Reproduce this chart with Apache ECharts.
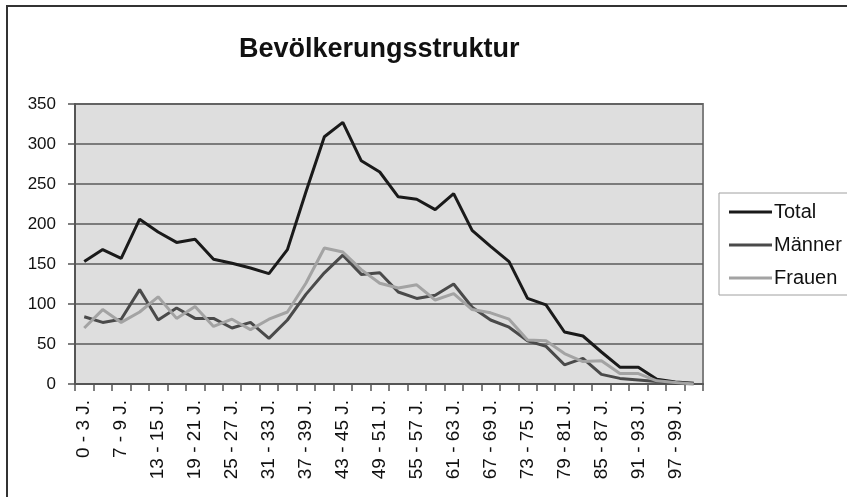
<!DOCTYPE html>
<html>
<head>
<meta charset="utf-8">
<script src="https://cdn.jsdelivr.net/npm/echarts@6/dist/echarts.min.js"></script>
<style>
html,body{margin:0;padding:0;background:#fff;}
#chart{width:847px;height:497px;}
</style>
</head>
<body>
<div id="chart"></div>
<script>
const categories = [
  "0 - 3 J.", "4 - 6 J.", "7 - 9 J.", "10 - 12 J.", "13 - 15 J.", "16 - 18 J.",
  "19 - 21 J.", "22 - 24 J.", "25 - 27 J.", "28 - 30 J.", "31 - 33 J.", "34 - 36 J.",
  "37 - 39 J.", "40 - 42 J.", "43 - 45 J.", "46 - 48 J.", "49 - 51 J.", "52 - 54 J.",
  "55 - 57 J.", "58 - 60 J.", "61 - 63 J.", "64 - 66 J.", "67 - 69 J.", "70 - 72 J.",
  "73 - 75 J.", "76 - 78 J.", "79 - 81 J.", "82 - 84 J.", "85 - 87 J.", "88 - 90 J.",
  "91 - 93 J.", "94 - 96 J.", "97 - 99 J.", "100 - 102 J."
];
const total = [153, 168, 157, 206, 190, 177, 181, 156, 151, 145, 138, 168,
  240, 309, 327, 279, 265, 234, 231, 218, 238, 192, 172, 153,
  107, 99, 65, 60, 40, 21, 21, 6, 2.5, 1];
const maenner = [84, 77, 81, 118, 80, 95, 82, 82, 70, 77, 57, 80,
  112, 139, 161, 137, 139, 115, 107, 111, 125, 96, 80, 71,
  54, 47, 24, 32, 12, 7, 5, 3, 1, 0];
const frauen = [70, 93, 77, 90, 109, 82, 97, 72, 81, 68, 81, 90,
  126, 170, 165, 143, 126, 120, 124, 105, 113, 93, 89, 81,
  55, 54, 38, 28, 29, 13, 13, 4, 2, 0];
const yTicks = [0, 50, 100, 150, 200, 250, 300, 350];
const seriesNames = ["Total", "Männer", "Frauen"];
const seriesColors = ["#1a1a1a", "#4a4a4a", "#a3a3a3"];

const chart = echarts.init(document.getElementById('chart'), null, {renderer: 'canvas'});
const font = "'Liberation Sans', Arial, sans-serif";
const dataSets = [total, maenner, frauen];

chart.setOption({
  animation: false,
  backgroundColor: '#ffffff',
  title: {
    text: 'Bevölkerungsstruktur',
    left: 239,
    top: 36,
    padding: 0,
    textStyle: {fontFamily: font, fontSize: 27, fontWeight: 'bold', color: '#111'}
  },
  legend: {
    orient: 'vertical',
    left: 719,
    top: 193,
    padding: [9, 10, 7, 10],
    backgroundColor: '#ffffff',
    borderColor: '#a0a0a0',
    borderWidth: 1,
    borderRadius: 0,
    itemWidth: 43,
    itemHeight: 3,
    itemGap: 13,
    icon: 'rect',
    textStyle: {fontFamily: font, fontSize: 20, color: '#111', padding: [0, 0, 0, -3]},
    data: seriesNames
  },
  grid: {
    left: 75, top: 104, right: 144, bottom: 113,
    show: true,
    backgroundColor: '#dedede',
    borderColor: '#808080',
    borderWidth: 2
  },
  xAxis: {
    type: 'category',
    data: categories,
    boundaryGap: true,
    axisLine: {show: true, lineStyle: {color: '#555', width: 2}},
    axisTick: {show: true, interval: 0, length: 7, lineStyle: {color: '#555', width: 1.5}},
    axisLabel: {
      interval: 1,
      rotate: 90,
      margin: 16,
      fontFamily: font,
      fontSize: 19,
      color: '#111'
    },
    splitLine: {show: false}
  },
  yAxis: {
    type: 'value',
    min: yTicks[0],
    max: yTicks[yTicks.length - 1],
    interval: 50,
    axisLine: {show: true, lineStyle: {color: '#555', width: 2}},
    axisTick: {show: true, length: 7, lineStyle: {color: '#555', width: 1.5}},
    axisLabel: {margin: 19, fontFamily: font, fontSize: 17, color: '#111'},
    splitLine: {show: true, lineStyle: {color: '#5a5a5a', width: 1.5}}
  },
  graphic: [{
    type: 'rect',
    shape: {x: 7, y: 6, width: 900, height: 600},
    style: {fill: null, stroke: '#333', lineWidth: 2},
    silent: true,
    z: 100
  }],
  series: seriesNames.map((name, i) => ({
    name: name,
    type: 'line',
    data: dataSets[i],
    symbol: 'none',
    showSymbol: false,
    color: seriesColors[i],
    lineStyle: {color: seriesColors[i], width: 3},
    itemStyle: {color: seriesColors[i]}
  }))
});
</script>
</body>
</html>
